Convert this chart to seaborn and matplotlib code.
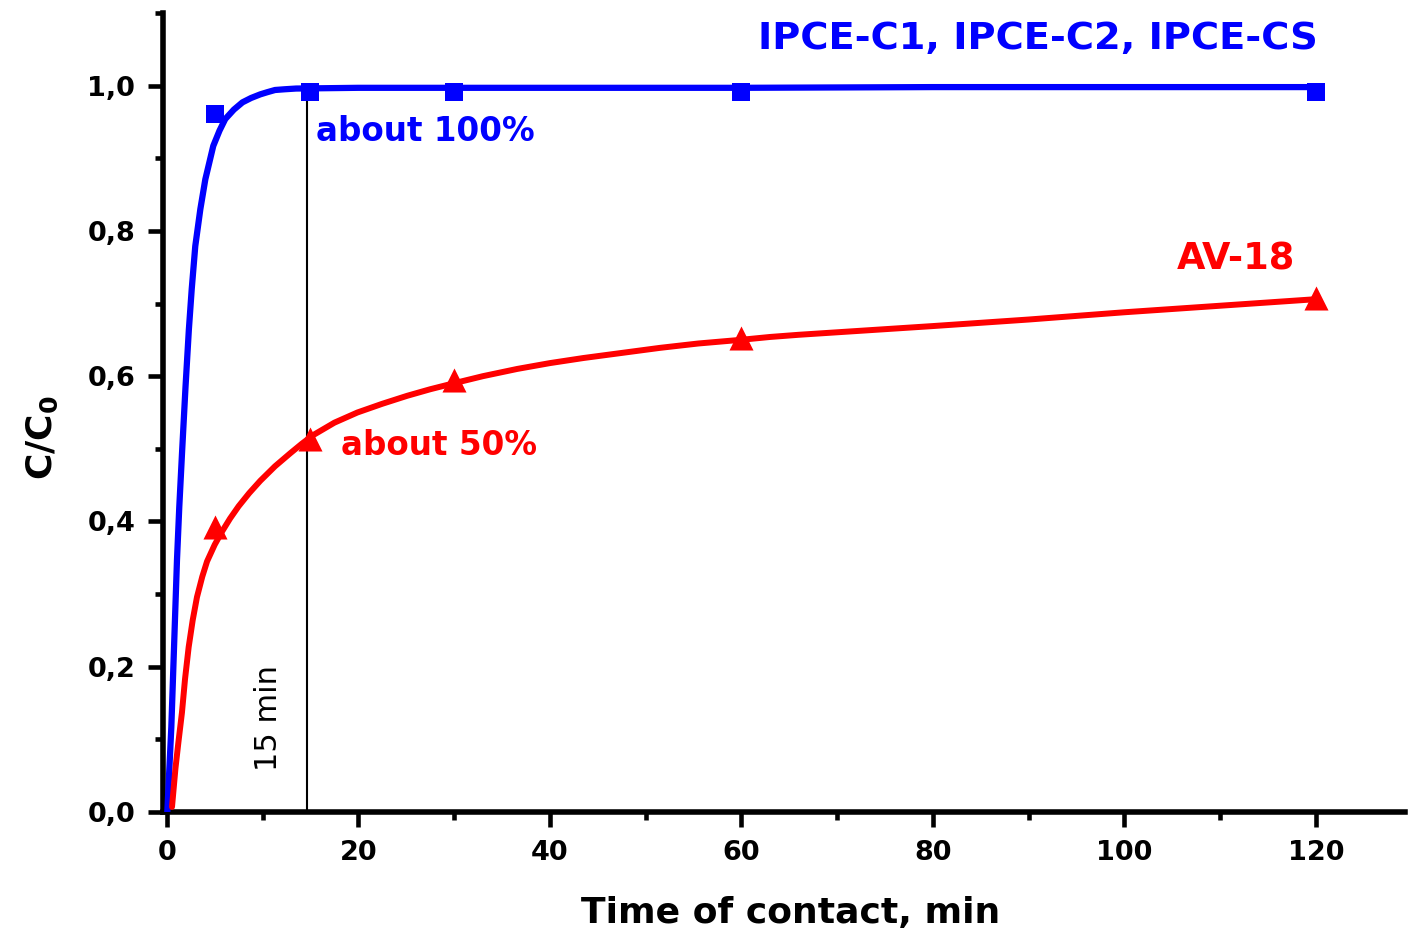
import numpy as np
import pandas as pd
import matplotlib
matplotlib.use("Agg")
import matplotlib.pyplot as plt
import seaborn as sns
from matplotlib.ticker import MultipleLocator, FuncFormatter

# measured points
time_points = [5, 15, 30, 60, 120]
ipce_points = [0.961, 0.991, 0.991, 0.991, 0.991]
av18_points = [0.393, 0.513, 0.595, 0.653, 0.707]

# fitted curves
ipce_fit_t = [0.05, 0.47, 0.75, 1.06, 1.3, 1.59, 1.95, 2.3, 2.6, 2.97, 3.5, 4.02,
              4.85, 5.5, 6.1, 7.0, 7.9, 8.8, 9.76, 10.5, 11.3, 12.3, 13.5,
              20, 40, 60, 80, 100, 120]
ipce_fit_y = [0.0, 0.117, 0.226, 0.347, 0.42, 0.495, 0.585, 0.664, 0.72, 0.779,
              0.83, 0.871, 0.917, 0.938, 0.954, 0.967, 0.977, 0.983, 0.988, 0.991,
              0.994, 0.995, 0.996, 0.997, 0.997, 0.997, 0.998, 0.998, 0.998]
av18_fit_t = [0.54, 0.9, 1.2, 1.58, 1.9, 2.28, 2.7, 3.15, 3.7, 4.2, 5.0, 5.76,
              6.6, 7.5, 8.6, 9.76, 11.3, 12.9, 14.1, 15.3, 17.5, 19.9, 22.5,
              25.1, 27.5, 29.9, 33, 36.6, 40, 43.5, 47.5, 51.5, 55.5, 59.9, 63,
              66, 73, 80, 90, 100, 110, 120]
av18_fit_y = [0.007, 0.06, 0.095, 0.137, 0.183, 0.227, 0.264, 0.296, 0.324, 0.345,
              0.368, 0.386, 0.404, 0.421, 0.439, 0.456, 0.476, 0.494, 0.507, 0.519,
              0.536, 0.550, 0.562, 0.573, 0.582, 0.590, 0.600, 0.610, 0.618, 0.625,
              0.632, 0.639, 0.645, 0.650, 0.654, 0.657, 0.663, 0.669, 0.678, 0.688,
              0.697, 0.706]

x_ticks = [0, 20, 40, 60, 80, 100, 120]
y_ticks = [0.0, 0.2, 0.4, 0.6, 0.8, 1.0]

BLUE = "#0000ff"
RED = "#ff0000"

sns.set_style("ticks")
plt.rcParams["font.family"] = ["DejaVu Sans"]
plt.rcParams["mathtext.fontset"] = "custom"
plt.rcParams["mathtext.rm"] = "DejaVu Sans:bold"
plt.rcParams["mathtext.bf"] = "DejaVu Sans:bold"
plt.rcParams["text.color"] = "black"
plt.rcParams["axes.labelcolor"] = "black"
plt.rcParams["axes.edgecolor"] = "black"
plt.rcParams["xtick.color"] = "black"
plt.rcParams["ytick.color"] = "black"

fig = plt.figure(figsize=(14.08, 9.34), dpi=100)
ax = fig.add_axes([163 / 1408, 122 / 934, 1242 / 1408, 799 / 934])

fit_ipce = pd.DataFrame({"t": ipce_fit_t, "y": ipce_fit_y})
fit_av = pd.DataFrame({"t": av18_fit_t, "y": av18_fit_y})
pts = pd.DataFrame({"t": time_points, "ipce": ipce_points, "av": av18_points})

sns.scatterplot(data=pts, x="t", y="ipce", marker="s", s=150, color=BLUE,
                edgecolor=BLUE, linewidth=0, ax=ax, zorder=3)
sns.scatterplot(data=pts, x="t", y="av", marker="^", s=300, color=RED,
                edgecolor=RED, linewidth=0, ax=ax, zorder=3)
sns.lineplot(data=fit_ipce, x="t", y="y", sort=False, color=BLUE, lw=4.5, ax=ax, zorder=4)
sns.lineplot(data=fit_av, x="t", y="y", sort=False, color=RED, lw=4.3, ax=ax, zorder=4)

# 15 min marker line
ax.vlines(14.6, 0, 0.98, color="black", lw=1.5, zorder=2)
ax.text(10.6, 0.13, "15 min", rotation=90, fontsize=22, ha="center", va="center")

ax.text(120.2, 1.064, "IPCE-C1, IPCE-C2, IPCE-CS", color=BLUE, fontsize=27.6,
        fontweight="bold", ha="right", va="center")
ax.text(15.6, 0.937, "about 100%", color=BLUE, fontsize=23.5, fontweight="bold",
        ha="left", va="center")
ax.text(111.6, 0.761, "AV-18", color=RED, fontsize=26.5, fontweight="bold",
        ha="center", va="center")
ax.text(18.2, 0.504, "about 50%", color=RED, fontsize=23.5, fontweight="bold",
        ha="left", va="center")

ax.set_xlim(-0.4, 129.3)
ax.set_ylim(0, 1.1)
ax.set_xticks(x_ticks)
ax.set_yticks(y_ticks)
ax.xaxis.set_minor_locator(MultipleLocator(10))
ax.yaxis.set_minor_locator(MultipleLocator(0.1))
ax.yaxis.set_major_formatter(FuncFormatter(lambda v, p: f"{v:.1f}".replace(".", ",")))
ax.tick_params(which="major", direction="out", length=11, width=3.3, labelsize=19.5, pad=9)
ax.tick_params(which="minor", direction="out", length=6, width=3.3)
for lab in ax.get_xticklabels() + ax.get_yticklabels():
    lab.set_fontweight("bold")

sns.despine(ax=ax)
for side in ["left", "bottom"]:
    ax.spines[side].set_linewidth(4)

ax.set_xlabel("Time of contact, min", fontsize=26, fontweight="bold")
ax.set_ylabel(r"C/C$_\mathbf{0}$", fontsize=26, fontweight="bold")
ax.xaxis.label.set_va("center")
ax.yaxis.label.set_va("center")
ax.xaxis.set_label_coords(0.505, -0.126)
ax.yaxis.set_label_coords(-0.097, 0.469)

fig.savefig("out.png", dpi=100)
